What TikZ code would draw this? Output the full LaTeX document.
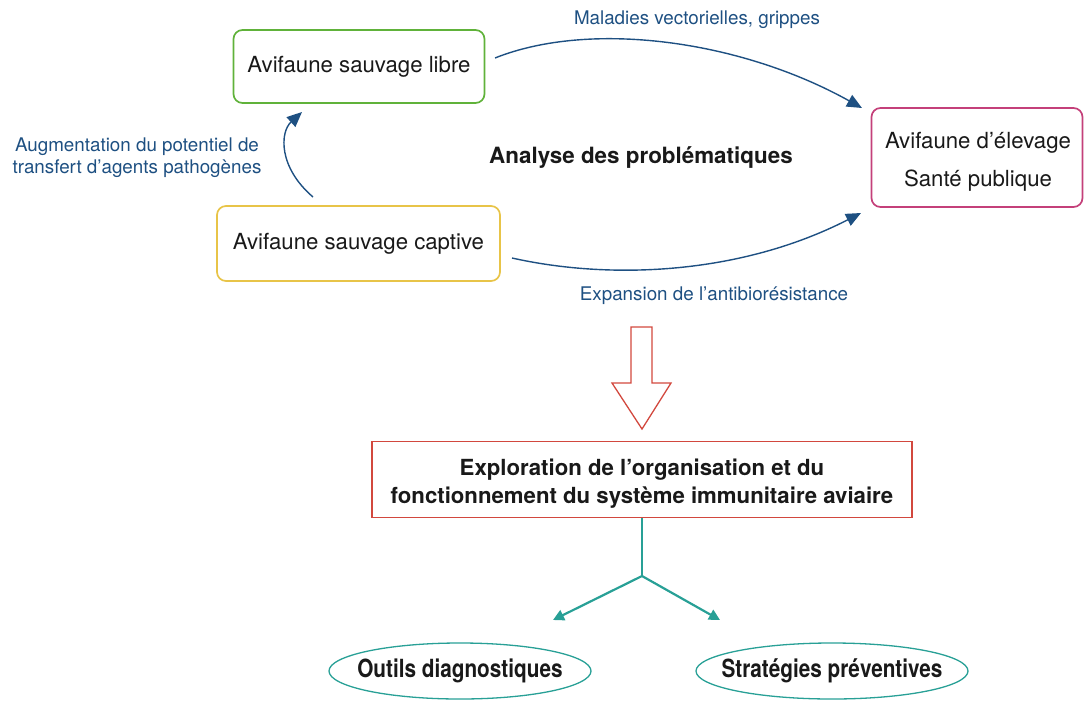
\documentclass[tikz,border=0pt]{standalone}
\usepackage{fontspec}
\setmainfont{TeX Gyre Heros}
\newfontfamily\condfont[FakeStretch=0.83]{TeX Gyre Heros}
\usetikzlibrary{arrows.meta,shapes.geometric}
\definecolor{cgreen}{RGB}{96,178,58}
\definecolor{cyellow}{RGB}{232,196,72}
\definecolor{cmagenta}{RGB}{196,64,122}
\definecolor{cblue}{RGB}{30,80,130}
\definecolor{cred}{RGB}{210,72,62}
\definecolor{cteal}{RGB}{40,160,150}
\definecolor{ctext}{RGB}{25,25,25}
\tikzset{
  rbox/.style={draw, rounded corners=9pt, line width=1.7pt, inner sep=0pt, text=ctext,
    font=\fontsize{22.2}{26}\selectfont},
  bluelbl/.style={text=cblue, font=\fontsize{18.8}{22}\selectfont, inner sep=0pt},
  bluearrow/.style={draw=cblue, line width=1.4pt, -{Triangle[length=15pt,width=13pt]}},
  tealarrow/.style={draw=cteal, line width=2.2pt, -{Triangle[length=11pt,width=11pt]}},
  oval/.style={ellipse, draw=cteal, line width=1.3pt, inner xsep=-16pt, inner ysep=0pt, text=ctext,
    font=\condfont\bfseries\fontsize{25}{29}\selectfont}
}
\begin{document}
\begin{tikzpicture}[x=1pt,y=-1pt]
\useasboundingbox (0,0) rectangle (1084,702);
% boxes
\node[rbox, draw=cgreen, minimum width=251pt, minimum height=73pt] (libre) at (359,66.5) {Avifaune sauvage libre};
\node[rbox, draw=cyellow, minimum width=283pt, minimum height=75pt] (captive) at (358.5,243.5) {Avifaune sauvage captive};
\node[rbox, draw=cmagenta, minimum width=211pt, minimum height=99pt] (elevage) at (977,157.5) {};
\node[inner sep=0pt, align=center, text=ctext, font=\fontsize{22.2}{38}\selectfont] (elevagetxt) at (978,162) {Avifaune d’élevage\\Santé publique};
\node[inner sep=0pt, text=ctext, font=\bfseries\fontsize{22.4}{26}\selectfont] (analyse) at (641,158) {Analyse des problématiques};
% curved connectors
\coordinate (a1) at (495,58);
\coordinate (a2) at (862,108);
\draw[bluearrow] (a1) .. controls (590,20) and (740,40) .. (a2);
\node[bluelbl] (lbl1) at (697,20) {Maladies vectorielles, grippes};
\coordinate (b1) at (512,258);
\coordinate (b2) at (861,213);
\draw[bluearrow] (b1) .. controls (610,280) and (740,275) .. (b2);
\node[bluelbl] (lbl2) at (714,296) {Expansion de l’antibiorésistance};
\coordinate (c1) at (313,197);
\coordinate (c2) at (302,112);
\draw[bluearrow] (c1) .. controls (278,167) and (280,132) .. (c2);
\node[bluelbl, align=center] (lbl3) at (137,158) {Augmentation du potentiel de\\transfert d’agents pathogènes};
% hollow arrow
\draw[cred, line width=1.3pt, line join=miter] (631,327) -- (652,327) -- (652,383) -- (671,383) -- (642,429) -- (612,383) -- (631,383) -- cycle;
% exploration box
\node[draw=cred, line width=1.5pt, minimum width=540pt, minimum height=76pt, inner sep=0pt] (explor) at (642,479.5) {};
\node[inner sep=0pt, align=center, text=ctext, font=\bfseries\fontsize{22.2}{28}\selectfont] (explortxt) at (642,484)
  {Exploration de l’organisation et du\\fonctionnement du système immunitaire aviaire};
% teal branches
\coordinate (j) at (642,576);
\coordinate (t1) at (553,620);
\coordinate (t2) at (720,620);
\draw[cteal, line width=2.2pt] (explor.south) -- (j);
\draw[tealarrow] (j) -- (t1);
\draw[tealarrow] (j) -- (t2);
\node[oval, minimum width=262pt, minimum height=56pt] (o1) at (460,671) {Outils diagnostiques};
\node[oval, minimum width=272pt, minimum height=56pt] (o2) at (832,671) {Stratégies préventives};
\end{tikzpicture}
\end{document}
